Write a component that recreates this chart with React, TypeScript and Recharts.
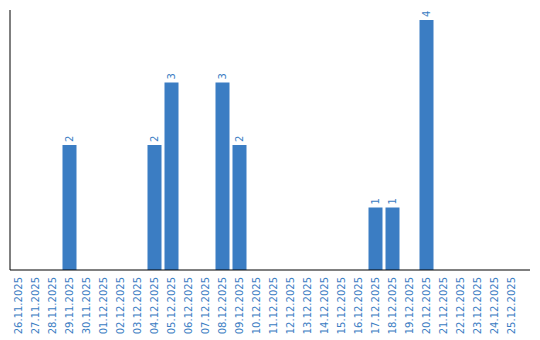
import { BarChart, Bar, XAxis, YAxis, LabelList } from 'recharts';

const days = [
  '26.11.2025', '27.11.2025', '28.11.2025', '29.11.2025', '30.11.2025',
  '01.12.2025', '02.12.2025', '03.12.2025', '04.12.2025', '05.12.2025',
  '06.12.2025', '07.12.2025', '08.12.2025', '09.12.2025', '10.12.2025',
  '11.12.2025', '12.12.2025', '13.12.2025', '14.12.2025', '15.12.2025',
  '16.12.2025', '17.12.2025', '18.12.2025', '19.12.2025', '20.12.2025',
  '21.12.2025', '22.12.2025', '23.12.2025', '24.12.2025', '25.12.2025',
];
const counts = [0, 0, 0, 2, 0, 0, 0, 0, 2, 3, 0, 0, 3, 2, 0, 0, 0, 0, 0, 0, 0, 1, 1, 0, 4, 0, 0, 0, 0, 0];

const BLUE = '#3b7dc3';
const FONT = 'DejaVu Sans';

const data = days.map((day, i) => ({ day, count: counts[i] }));

function DayTick(props: any) {
  const { x, y, payload } = props;
  return (
    <text
      x={x}
      y={y}
      transform={`rotate(-90, ${x}, ${y})`}
      textAnchor="end"
      dominantBaseline="central"
      fill={BLUE}
      fontSize={10}
      fontFamily={FONT}
      dx={1}
    >
      {payload.value}
    </text>
  );
}

function ValueLabel(props: any) {
  const { x, y, width, value } = props;
  if (!value) return null;
  const cx = x + width / 2;
  const cy = y - 3;
  return (
    <text
      x={cx}
      y={cy}
      transform={`rotate(-90, ${cx}, ${cy})`}
      textAnchor="start"
      dominantBaseline="central"
      fill={BLUE}
      fontSize={10}
      fontFamily={FONT}
    >
      {value}
    </text>
  );
}

export default function App() {
  return (
    <div style={{ position: 'absolute', left: 0, top: 0, width: 540, height: 340, background: '#fff', fontFamily: FONT }}>
      <BarChart
        width={540}
        height={340}
        data={data}
        margin={{ top: 10, right: 10, bottom: 0, left: 9 }}
        barCategoryGap={1.5}
      >
        <XAxis
          dataKey="day"
          interval={0}
          height={70}
          padding={{ left: 0, right: 10 }}
          tickLine={false}
          axisLine={{ stroke: '#000' }}
          tick={<DayTick />}
        />
        <YAxis
          width={1}
          domain={[0, 4.16]}
          tick={false}
          tickLine={false}
          axisLine={{ stroke: '#000' }}
        />
        <Bar dataKey="count" fill={BLUE} isAnimationActive={false}>
          <LabelList dataKey="count" content={<ValueLabel />} />
        </Bar>
      </BarChart>
    </div>
  );
}
